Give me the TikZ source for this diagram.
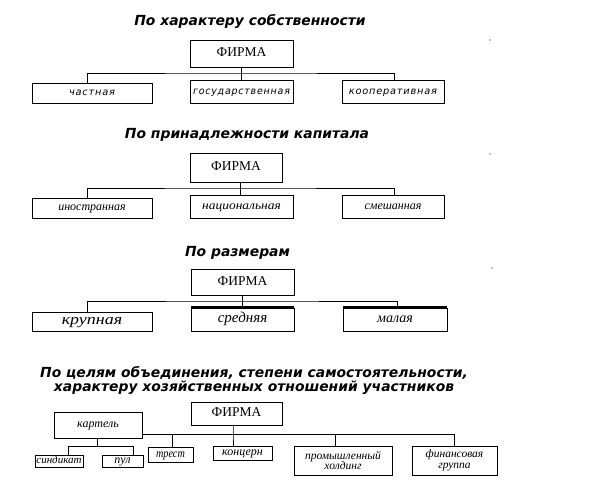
\documentclass[tikz,border=0pt]{standalone}
\usepackage{fontspec}
\setmainfont{Liberation Serif}
\newfontfamily\ttlfont{DejaVu Sans}
\newfontfamily\sfxfont[LetterSpace=8]{DejaVu Sans}
\newcommand{\hsc}[2]{\scalebox{#1}[1]{#2}}
\begin{document}
\begin{tikzpicture}[x=1pt,y=-1pt,
  box/.style={draw,line width=0.9pt,inner sep=0pt,rectangle,text height=1.15ex,text depth=0pt,font=\fontsize{12}{12}\selectfont\itshape},
  firm/.style={box,text height=1.45ex,font=\fontsize{13.5}{13.5}\selectfont},
  sbox/.style={box,font=\sfxfont\fontsize{9.8}{9.8}\selectfont\itshape},
  two/.style={draw,line width=0.9pt,inner sep=0pt,rectangle,align=center,font=\fontsize{11.5}{10.5}\selectfont\itshape},
  ttl/.style={font=\ttlfont\bfseries\itshape\fontsize{13.9}{14}\selectfont,inner sep=0pt,align=center},
  con/.style={line width=0.9pt},
  thicktop/.style={line width=2.4pt}]
\useasboundingbox (0,0) rectangle (598,494);
% stray dots
\fill (490,40) circle (0.6);
\fill (490,154) circle (0.6);
\fill (492,268) circle (0.6);

% ---------- Section 1
\node[ttl] (t1) at (250,21) {По характеру собственности};
\node[firm,minimum width=103,minimum height=27] (f1) at (241.5,53.5) {ФИРМА};
\node[sbox,minimum width=120,minimum height=20] (a1) at (92,93) {частная};
\node[sbox,minimum width=103,minimum height=23] (b1) at (241.5,91.5) {\hsc{0.97}{государственная}};
\node[sbox,minimum width=102,minimum height=23] (c1) at (393,91.5) {кооперативная};
\coordinate (h1) at (241.5,73);
\draw[con] ([xshift=-5]a1.north) |- (h1) -| ([xshift=1]c1.north);
\draw[con] (f1.south) -- (b1.north);

% ---------- Section 2
\node[ttl] (t2) at (247,135) {По принадлежности капитала};
\node[firm,minimum width=92,minimum height=29] (f2) at (236,167.5) {ФИРМА};
\node[box,minimum width=120,minimum height=20] (a2) at (92,208) {иностранная};
\node[box,minimum width=103,minimum height=23] (b2) at (241.5,206.5) {\hsc{1.12}{национальная}};
\node[box,minimum width=102,minimum height=23] (c2) at (393,206.5) {смешанная};
\coordinate (h2) at (240,188);
\draw[con] ([xshift=-5]a2.north) |- (h2) -| ([xshift=1]c2.north);
\draw[con] (h2 |- f2.south) -- (h2 |- b2.north);

% ---------- Section 3
\node[ttl] (t3) at (237.5,253) {По размерам};
\node[firm,minimum width=103,minimum height=26] (f3) at (242.5,282) {ФИРМА};
\node[box,minimum width=120,minimum height=19,font=\fontsize{15}{15}\selectfont\itshape] (a3) at (92,321.5) {\hsc{1.2}{крупная}};
\node[box,minimum width=103,minimum height=23,font=\fontsize{15}{15}\selectfont\itshape] (b3) at (242.5,319.5) {средняя};
\node[box,minimum width=104,minimum height=23,font=\fontsize{14}{14}\selectfont\itshape] (c3) at (395,319.5) {малая};
\draw[thicktop] (b3.north west) -- (b3.north east);
\draw[thicktop] (c3.north west) -- (c3.north east);
\coordinate (h3) at (242.5,301);
\draw[con] ([xshift=-5]a3.north) |- (h3) -| ([xshift=2]c3.north);
\draw[con] (f3.south) -- (b3.north);

% ---------- Section 4
\node[ttl] (t4) at (254,380) {По целям объединения, степени самостоятельности,\\характеру хозяйственных отношений участников};
\node[firm,minimum width=91,minimum height=23] (f4) at (236.5,413.5) {ФИРМА};
\node[box,minimum width=88,minimum height=26] (k4) at (98,425) {картель};
\node[box,minimum width=45,minimum height=15] (tr4) at (170.5,454.5) {\hsc{0.85}{трест}};
\node[box,minimum width=59,minimum height=14] (ko4) at (242.5,453) {концерн};
\node[two,minimum width=98,minimum height=29] (ph4) at (343,460.5) {промышленный\\холдинг};
\node[two,minimum width=85,minimum height=29] (fg4) at (454.5,460.5) {финансовая\\группа};
\node[box,minimum width=48,minimum height=12,font=\fontsize{11}{11}\selectfont\itshape] (s4) at (59,461) {синдикат};
\node[box,minimum width=41,minimum height=12] (p4) at (122.5,461) {пул};
\coordinate (v4) at (233,434);
\coordinate (vt) at (172,434);
\coordinate (vp) at (335,434);
\coordinate (vf) at (454,434);
\draw[con] (k4.east |- v4) -- (vf) -- (vf |- fg4.north);
\draw[con] (f4.south -| v4) -- (v4) -- (v4 |- ko4.north);
\draw[con] (vt) -- (vt |- tr4.north);
\draw[con] (vp) -- (vp |- ph4.north);
\coordinate (kc) at (97,446);
\coordinate (ks) at (68,446);
\coordinate (kp) at (133,446);
\draw[con] (kc |- k4.south) -- (kc);
\draw[con] (ks |- s4.north) -- (ks) -- (kp) -- (kp |- p4.north);
\end{tikzpicture}
\end{document}
